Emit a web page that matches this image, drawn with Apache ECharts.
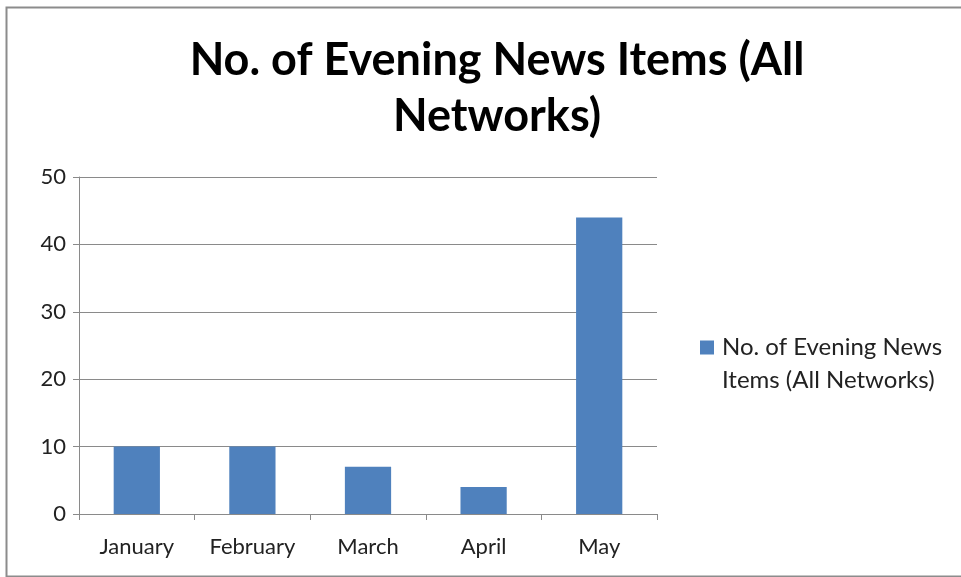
<!DOCTYPE html>
<html>
<head>
<meta charset="utf-8">
<script src="https://cdn.jsdelivr.net/npm/echarts@6/dist/echarts.min.js"></script>
<style>
  html, body { margin: 0; padding: 0; background: #ffffff; }
  #chart { width: 961px; height: 577px; }
</style>
</head>
<body>
<div id="chart"></div>
<script>
// Monthly counts of evening news items across all networks
const months = ['January', 'February', 'March', 'April', 'May'];
const newsItems = [10, 10, 7, 4, 44];
const seriesName = 'No. of Evening News Items (All Networks)';
const titleText = 'No. of Evening News Items (All\nNetworks)';
const legendText = 'No. of Evening News\nItems (All Networks)';

const chart = echarts.init(document.getElementById('chart'));
const textFont = 'Lato, "Open Sans", "Noto Sans", sans-serif';

chart.setOption({
  backgroundColor: '#ffffff',
  animation: false,
  title: {
    text: titleText,
    left: 492,
    top: 27,
    textAlign: 'center',
    textStyle: {
      fontFamily: textFont,
      fontWeight: 'bold',
      fontSize: 45,
      lineHeight: 56,
      color: '#000000'
    }
  },
  graphic: [{
    type: 'rect',
    left: 4,
    top: 5,
    shape: { width: 980, height: 569 },
    style: { fill: 'none', stroke: '#8c8c8c', lineWidth: 2 },
    silent: true
  }],
  legend: {
    data: [seriesName],
    left: 700,
    top: 331,
    padding: 0,
    orient: 'vertical',
    // square swatch sitting level with the first text line
    icon: 'path://M0,0h14v14h-14z M0,47h0.01',
    itemWidth: 14,
    itemHeight: 47,
    formatter: function () { return legendText; },
    textStyle: {
      fontFamily: textFont,
      fontSize: 24,
      lineHeight: 33,
      color: '#222222',
      padding: [0, 0, 0, 3]
    }
  },
  grid: {
    left: 79,
    right: 961 - 657,
    top: 177,
    bottom: 577 - 514,
    containLabel: false
  },
  xAxis: {
    type: 'category',
    data: months,
    axisLine: { lineStyle: { color: '#8a8a8a', width: 1 } },
    axisTick: { show: true, length: 6, lineStyle: { color: '#8a8a8a' } },
    axisLabel: {
      interval: 0,
      fontFamily: textFont,
      fontSize: 22,
      color: '#222222',
      margin: 22
    }
  },
  yAxis: {
    type: 'value',
    min: 0,
    max: 50,
    interval: 10,
    axisLine: { show: true, lineStyle: { color: '#8a8a8a', width: 1 } },
    axisTick: { show: true, length: 6, lineStyle: { color: '#8a8a8a' } },
    splitLine: { lineStyle: { color: '#8a8a8a', width: 1 } },
    axisLabel: {
      fontFamily: textFont,
      fontSize: 22,
      color: '#222222',
      margin: 13
    }
  },
  series: [{
    name: seriesName,
    type: 'bar',
    data: newsItems,
    barWidth: '40%',
    itemStyle: { color: '#4f81bd' }
  }]
});
</script>
</body>
</html>
